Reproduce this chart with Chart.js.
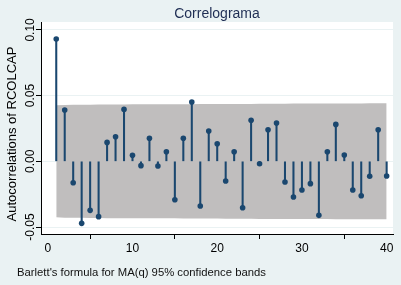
<!DOCTYPE html>
<html>
<head>
<meta charset="utf-8">
<script src="https://cdn.jsdelivr.net/npm/chart.js@4.4.0/dist/chart.umd.min.js"></script>
<style>
  body { margin: 0; background: #eaf2f3; }
</style>
</head>
<body>
<canvas id="myChart" width="401" height="285"></canvas>
<script>
//DATOS
const lags = [1, 2, 3, 4, 5, 6, 7, 8, 9, 10, 11, 12, 13, 14, 15, 16, 17, 18, 19, 20,
  21, 22, 23, 24, 25, 26, 27, 28, 29, 30, 31, 32, 33, 34, 35, 36, 37, 38, 39, 40];
const acf = [0.093, 0.039, -0.0163, -0.0472, -0.0373, -0.0421, 0.0144, 0.0187, 0.0395, 0.0046,
  -0.0033, 0.0175, -0.0036, 0.0073, -0.0292, 0.0175, 0.0451, -0.034, 0.023, 0.0134,
  -0.015, 0.0073, -0.0353, 0.0312, -0.0018, 0.024, 0.0291, -0.0157, -0.0271, -0.0218,
  -0.017, -0.0411, 0.0073, 0.0281, 0.0048, -0.0218, -0.0262, -0.0114, 0.024, -0.0112];
const bandHigh = [0.0426, 0.0429, 0.0430, 0.0430, 0.0431, 0.0432, 0.0433, 0.0433, 0.0433, 0.0434,
  0.0434, 0.0434, 0.0434, 0.0434, 0.0434, 0.0435, 0.0435, 0.0436, 0.0436, 0.0436,
  0.0437, 0.0437, 0.0437, 0.0437, 0.0438, 0.0438, 0.0438, 0.0438, 0.0439, 0.0439,
  0.0439, 0.0439, 0.0439, 0.0440, 0.0440, 0.0440, 0.0440, 0.0441, 0.0441, 0.0441];
const bandLow = [-0.0426, -0.0429, -0.0430, -0.0430, -0.0431, -0.0432, -0.0433, -0.0433, -0.0433, -0.0434,
  -0.0434, -0.0434, -0.0434, -0.0434, -0.0434, -0.0435, -0.0435, -0.0436, -0.0436, -0.0436,
  -0.0437, -0.0437, -0.0437, -0.0437, -0.0438, -0.0438, -0.0438, -0.0438, -0.0439, -0.0439,
  -0.0439, -0.0439, -0.0439, -0.0440, -0.0440, -0.0440, -0.0440, -0.0441, -0.0441, -0.0441];
const xTicks = [0, 10, 20, 30, 40];
const yTicks = [-0.05, 0, 0.05, 0.10];
const yTickLabels = ["-0.05", "0.00", "0.05", "0.10"];

const titulo = "Correlograma";
const tituloY = "Autocorrelations of RCOLCAP";
const nota = "Barlett's formula for MA(q) 95% confidence bands";

const FONT = "'Liberation Sans', Arial, sans-serif";
const NAVY = "#1a476f";

//fondo, titulos y etiquetas del eje y
const fondo = {
  id: "fondo",
  beforeDraw(chart) {
    const ctx = chart.ctx;
    const a = chart.chartArea;
    ctx.save();
    ctx.fillStyle = "#eaf2f3";
    ctx.fillRect(0, 0, chart.width, chart.height);
    ctx.fillStyle = "#ffffff";
    ctx.fillRect(a.left, a.top, a.right - a.left, a.bottom - a.top);
    ctx.restore();
  },
  afterDraw(chart) {
    const ctx = chart.ctx;
    const a = chart.chartArea;
    const y = chart.scales.y;
    ctx.save();
    ctx.fillStyle = "#1e2d53";
    ctx.font = "14px " + FONT;
    ctx.textAlign = "center";
    ctx.textBaseline = "middle";
    ctx.fillText(titulo, (a.left + a.right) / 2, 14);

    ctx.fillStyle = "#111111";
    ctx.font = "11.3px " + FONT;
    ctx.textAlign = "left";
    ctx.fillText(nota, 17, 272.5);

    // etiquetas y rotadas
    ctx.fillStyle = "#000000";
    ctx.font = "12px " + FONT;
    ctx.textAlign = "center";
    for (let i = 0; i < yTicks.length; i++) {
      const py = y.getPixelForValue(yTicks[i]);
      ctx.save();
      ctx.translate(30.5, py);
      ctx.rotate(-Math.PI / 2);
      ctx.fillText(yTickLabels[i], 0, 0);
      ctx.restore();
    }
    ctx.font = "13px " + FONT;
    ctx.save();
    ctx.translate(12.5, 134);
    ctx.rotate(-Math.PI / 2);
    ctx.fillText(tituloY, 0, 0);
    ctx.restore();
    ctx.restore();
  },
};

const puntos = lags.map((l, i) => ({ x: l, y: acf[i] }));
const palos = lags.map((l, i) => ({ x: l, y: [0, acf[i]] }));
const arriba = lags.map((l, i) => ({ x: l, y: bandHigh[i] }));
const abajo = lags.map((l, i) => ({ x: l, y: bandLow[i] }));

const config = {
  type: "bar",
  data: {
    datasets: [
      {
        type: "scatter",
        data: puntos,
        backgroundColor: NAVY,
        borderColor: NAVY,
        pointRadius: 2.8,
        borderWidth: 0,
        order: 0,
      },
      {
        type: "bar",
        data: palos,
        backgroundColor: NAVY,
        borderWidth: 0,
        barThickness: 1.4,
        order: 1,
      },
      {
        type: "line",
        data: arriba,
        borderWidth: 0,
        borderColor: "rgba(0,0,0,0)",
        backgroundColor: "#c0bebe",
        pointRadius: 0,
        fill: "+1",
        tension: 0,
        order: 2,
      },
      {
        type: "line",
        data: abajo,
        borderWidth: 0,
        borderColor: "rgba(0,0,0,0)",
        backgroundColor: "#c0bebe",
        pointRadius: 0,
        fill: false,
        tension: 0,
        order: 3,
      },
    ],
  },
  plugins: [fondo],
  options: {
    responsive: false,
    animation: false,
    layout: { padding: { left: 0, right: 8, top: 22, bottom: 0 } },
    plugins: {
      legend: { display: false },
      tooltip: { enabled: false },
      title: { display: false },
    },
    scales: {
      x: {
        type: "linear",
        min: -0.8,
        max: 40.75,
        offset: false,
        afterBuildTicks: (s) => { s.ticks = xTicks.map((v) => ({ value: v })); },
        afterFit: (s) => { s.height = 51; },
        ticks: {
          color: "#000000",
          font: { family: FONT, size: 12 },
          padding: 2,
          maxRotation: 0,
          callback: (v) => String(v),
        },
        grid: {
          drawOnChartArea: false,
          drawTicks: true,
          tickLength: 5,
          tickColor: "#000000",
        },
        border: { display: true, color: "#000000", width: 1 },
      },
      y: {
        type: "linear",
        min: -0.0553,
        max: 0.106,
        afterBuildTicks: (s) => { s.ticks = yTicks.map((v) => ({ value: v })); },
        afterFit: (s) => { s.width = 41; },
        ticks: {
          color: "rgba(0,0,0,0)",
          font: { family: FONT, size: 12 },
        },
        grid: {
          color: "#eaf2f3",
          lineWidth: 1,
          drawTicks: true,
          tickLength: 5,
          tickColor: "#000000",
        },
        border: { display: true, color: "#000000", width: 1 },
      },
    },
  },
};

const myChart = new Chart(document.getElementById("myChart"), config);
</script>
</body>
</html>
